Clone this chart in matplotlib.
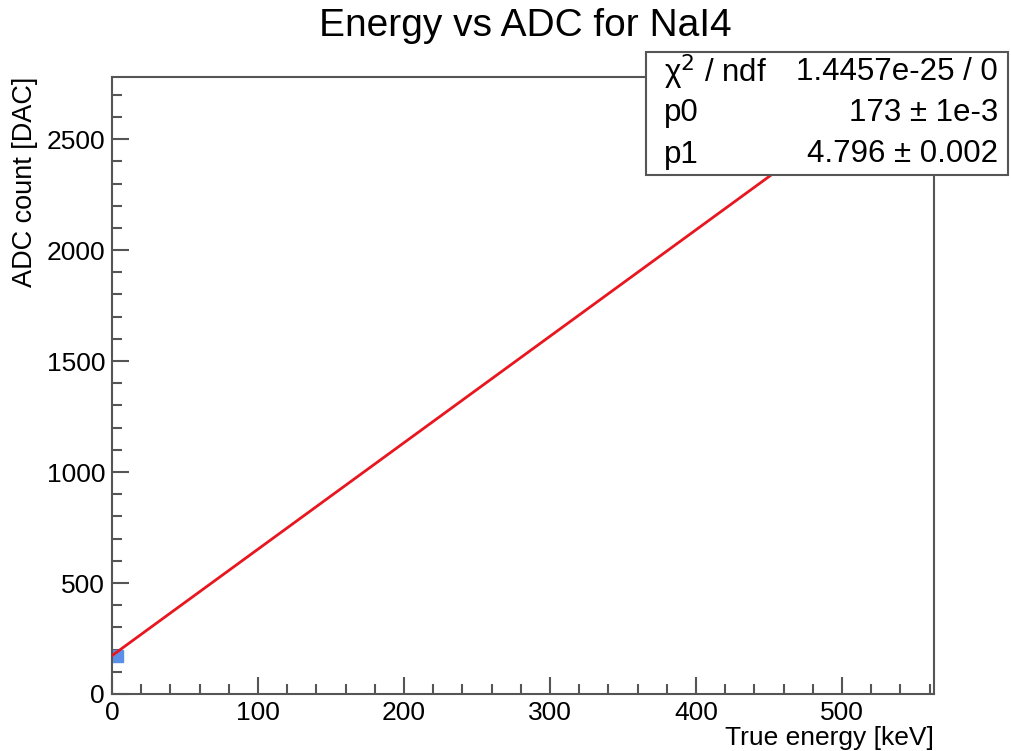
import matplotlib
matplotlib.use("Agg")
import matplotlib.pyplot as plt
import numpy as np
from matplotlib.ticker import MultipleLocator

plt.rcParams["font.family"] = ["Liberation Sans", "DejaVu Sans"]

# fit result and data point
p0 = 173.0
p1 = 4.796
fit_range = [0.0, 470.0]
point_x = [3.4]
point_y = [171.0]

stats_labels = ["\u03c7$^{2}$ / ndf", "p0", "p1"]
stats_values = ["1.4457e-25 / 0", "173 \u00b1 1e-3", "4.796 \u00b1 0.002"]

fig = plt.figure(figsize=(10.11, 7.51), dpi=100)
ax = fig.add_axes([0.1108, 0.0759, 0.8130, 0.8216])

xs = np.array(fit_range)
ax.plot(xs, p0 + p1 * xs, color="#e8171f", lw=2, zorder=3)
ax.plot(point_x, point_y, marker="s", ms=9, color="#5b8fe8", ls="none", zorder=2)

ax.set_xlim(0, 563)
ax.set_ylim(0, 2780)
ax.xaxis.set_major_locator(MultipleLocator(100))
ax.xaxis.set_minor_locator(MultipleLocator(20))
ax.yaxis.set_major_locator(MultipleLocator(500))
ax.yaxis.set_minor_locator(MultipleLocator(100))
ax.tick_params(which="both", direction="in", color="#555555", width=1.5,
               labelsize=19, top=False, right=False)
ax.tick_params(which="major", length=12)
ax.tick_params(which="minor", length=7)
ax.tick_params(axis="x", pad=5)
ax.tick_params(axis="y", pad=5)
for s in ax.spines.values():
    s.set_color("#555555")
    s.set_linewidth(1.5)

ax.set_xlabel("True energy [keV]", fontsize=19, loc="right", labelpad=1)
ax.set_ylabel("ADC count [DAC]", fontsize=19.5, loc="top", labelpad=6)

fig.text(0.52, 0.966, "Energy vs ADC for NaI4", fontsize=28, ha="center", va="center")

# stats box
bx0, by0, bw, bh = 646 / 1011, 1 - 175 / 751, 362 / 1011, 123 / 751
box = plt.Rectangle((bx0, by0), bw, bh, transform=fig.transFigure,
                    facecolor="white", edgecolor="#555555", lw=1.5, zorder=10)
fig.patches.append(box)
for i, (lab, val) in enumerate(zip(stats_labels, stats_values)):
    yy = by0 + bh * (1 - (i + 0.5) / 3)
    fig.text(bx0 + 0.018, yy, lab, fontsize=22.5, ha="left", va="center", zorder=11)
    fig.text(bx0 + bw - 0.01, yy, val, fontsize=22.5, ha="right", va="center", zorder=11)

fig.savefig("out.png", dpi=100)
